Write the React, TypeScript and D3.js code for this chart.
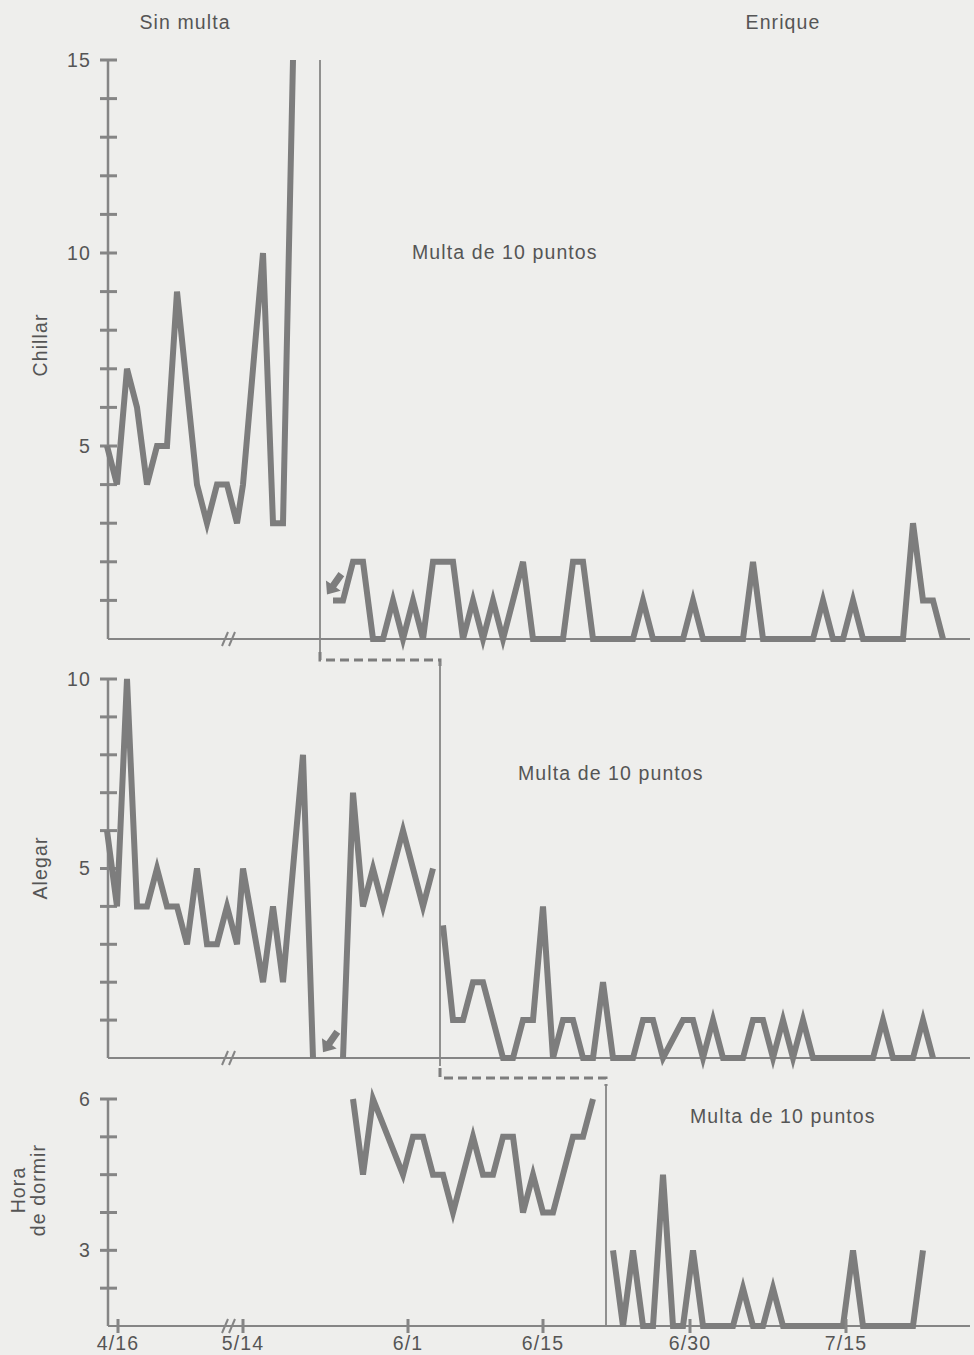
import React from 'react';
import * as d3 from 'd3';

// ---- x axis (session index, with a break between session 13 and 14) ----
const xDomain = [0, 13, 14, 84];
const xTickPos = [1.1, 14, 30.5, 44, 58.7, 74.3];
const xTickLabels = ['4/16', '5/14', '6/1', '6/15', '6/30', '7/15'];
const axisBreakPos = 11.8;
const phasePos = [21.7, 33.7, 50.3];

// ---- Chillar ----
const chillarBaseStart = 0;
const chillarBase = [5, 4, 7, 6, 4, 5, 5, 9, null, 4, 3, 4, 4, 3, 4, null, 10, 3, 3, 15];
const chillarFineStart = 23;
const chillarFine = [1, 1, 2, 2, 0, 0, 1, 0, 1, 0, 2, 2, 2, 0, 1, 0, 1, 0, null, 2, 0, 0, 0, 0, 2, 2, 0, 0, 0, 0, 0, 1, 0, 0, 0, 0, 1, 0, 0, 0, 0, 0, 2, 0, 0, 0, 0, 0, 0, 1, 0, 0, 1, 0, 0, 0, 0, 0, 3, 1, 1, 0];

// ---- Alegar ----
const alegarBase1Start = 0;
const alegarBase1 = [6, 4, 10, 4, 4, 5, 4, 4, 3, 5, 3, 3, 4, 3, 5, null, 2, 4, 2, null, 8, 0];
const alegarBase2Start = 24;
const alegarBase2 = [0, 7, 4, 5, 4, null, 6, null, 4, 5];
const alegarFineStart = 34;
const alegarFine = [3.5, 1, 1, 2, 2, null, 0, 0, 1, 1, 4, 0, 1, 1, 0, 0, 2, 0, 0, 0, 1, 1, 0, null, 1, 1, 0, 1, 0, 0, 0, 1, 1, 0, 1, 0, 1, 0, 0, 0, 0, 0, 0, 0, 1, 0, 0, 0, 1, 0];

// ---- Hora de dormir ----
const dormirBaseStart = 25;
const dormirBase = [6, 4.5, 6, null, null, 4.5, 5.25, 5.25, 4.5, 4.5, 3.75, null, 5.25, 4.5, 4.5, 5.25, 5.25, 3.75, 4.5, 3.75, 3.75, null, 5.25, 5.25, 6];
const dormirFineStart = 51;
const dormirFine = [3, 1.5, 3, 1.5, 1.5, 4.5, 1.5, 1.5, 3, 1.5, 1.5, 1.5, 1.5, 2.25, 1.5, 1.5, 2.25, 1.5, 1.5, 1.5, 1.5, 1.5, 1.5, 1.5, 3, 1.5, 1.5, 1.5, 1.5, 1.5, 1.5, 3];

// ---- y axes ----
const chillarTicks = d3.range(1, 16);
const chillarLabels = [5, 10, 15];
const alegarTicks = d3.range(1, 11);
const alegarLabels = [5, 10];
const dormirTicks = [2.25, 3, 3.75, 4.5, 5.25, 6];
const dormirLabels = [3, 6];

const arrowMarks = [
  { panel: 0, pos: 22.4, value: 1.15 },
  { panel: 1, pos: 22.0, value: 0.15 },
];

const W = 974;
const H = 1355;
const AX = 108;
const XEND = 970;
const LINE = '#7d7d7d';
const AXIS = '#858585';
const TEXT = '#555';
const FONT = '"Liberation Sans", Arial, Helvetica, sans-serif';

const x = d3.scaleLinear().domain(xDomain).range([107, 237, 243, 943]);

type Seg = { start: number; values: (number | null)[] };

export default function App() {
  const panels = [
    {
      y: d3.scaleLinear().domain([0, 15]).range([639, 60]),
      ticks: chillarTicks,
      labels: chillarLabels,
      segs: [
        { start: chillarBaseStart, values: chillarBase },
        { start: chillarFineStart, values: chillarFine },
      ] as Seg[],
      title: ['Chillar'],
      titleY: 345,
      fine: { x: 412, y: 252 },
    },
    {
      y: d3.scaleLinear().domain([0, 10]).range([1058, 679]),
      ticks: alegarTicks,
      labels: alegarLabels,
      segs: [
        { start: alegarBase1Start, values: alegarBase1 },
        { start: alegarBase2Start, values: alegarBase2 },
        { start: alegarFineStart, values: alegarFine },
      ] as Seg[],
      title: ['Alegar'],
      titleY: 868,
      fine: { x: 518, y: 773 },
    },
    {
      y: d3.scaleLinear().domain([1.5, 6]).range([1326, 1099]),
      ticks: dormirTicks,
      labels: dormirLabels,
      segs: [
        { start: dormirBaseStart, values: dormirBase },
        { start: dormirFineStart, values: dormirFine },
      ] as Seg[],
      title: ['Hora', 'de dormir'],
      titleY: 1190,
      fine: { x: 690, y: 1116 },
    },
  ];

  const textStyle = { fontFamily: FONT, fill: TEXT, fontSize: 19.5, letterSpacing: 1.1 } as const;

  return (
    <svg width={W} height={H} style={{ position: 'absolute', left: 0, top: 0, display: 'block' }}>
      <rect x={0} y={0} width={W} height={H} fill="#eeeeec" />
      <text x={185} y={22} dy="0.35em" textAnchor="middle" {...textStyle}>Sin multa</text>
      <text x={783} y={22} dy="0.35em" textAnchor="middle" {...textStyle}>Enrique</text>

      {panels.map((p, pi) => {
        const y = p.y;
        const [d0, d1] = y.domain();
        const base = y(d0);
        const top = y(d1);
        const line = d3
          .line<[number, number]>()
          .x((d) => x(d[0]))
          .y((d) => y(d[1]));
        return (
          <g key={pi}>
            {/* axes */}
            <line x1={AX} x2={AX} y1={top} y2={base} stroke={AXIS} strokeWidth={2.5} />
            <line x1={AX} x2={XEND} y1={base} y2={base} stroke={AXIS} strokeWidth={2} />
            {p.ticks.map((t) => (
              <line key={t} x1={AX - 8} x2={AX + 9} y1={y(t)} y2={y(t)} stroke={AXIS} strokeWidth={3} />
            ))}
            {p.labels.map((t) => (
              <text key={t} x={91} y={y(t)} dy="0.35em" textAnchor="end" {...textStyle}>
                {t}
              </text>
            ))}
            {/* axis break */}
            {[0, 7].map((o) => (
              <line
                key={o}
                x1={x(axisBreakPos) + o - 3}
                x2={x(axisBreakPos) + o + 3}
                y1={base + 7}
                y2={base - 7}
                stroke={AXIS}
                strokeWidth={2}
              />
            ))}
            {/* y title */}
            {p.title.map((t, ti) => (
              <text
                key={t}
                transform={`translate(${p.title.length === 1 ? 40 : 18 + ti * 20},${p.titleY}) rotate(-90)`}
                dy="0.35em"
                textAnchor="middle"
                {...textStyle}
              >
                {t}
              </text>
            ))}
            {/* data */}
            {p.segs.map((s, si) => {
              const pts = s.values
                .map((v, i) => [s.start + i, v] as [number, number | null])
                .filter((d) => d[1] !== null) as [number, number][];
              return (
                <path
                  key={si}
                  d={line(pts) || ''}
                  fill="none"
                  stroke={LINE}
                  strokeWidth={6}
                  strokeLinejoin="miter"
                  strokeMiterlimit={4}
                />
              );
            })}
            <text x={p.fine.x} y={p.fine.y} dy="0.35em" {...textStyle}>
              Multa de 10 puntos
            </text>
          </g>
        );
      })}

      {/* x ticks on bottom axis */}
      {xTickPos.map((t, i) => (
        <g key={i}>
          <line x1={x(t)} x2={x(t)} y1={1319} y2={1333} stroke={AXIS} strokeWidth={3} />
          <text x={x(t)} y={1343} dy="0.35em" textAnchor="middle" {...textStyle}>
            {xTickLabels[i]}
          </text>
        </g>
      ))}

      {/* phase change lines */}
      <line x1={x(phasePos[0])} x2={x(phasePos[0])} y1={60} y2={652} stroke={AXIS} strokeWidth={1.8} />
      <path
        d={`M${x(phasePos[0])},652 V660 H${x(phasePos[1])} V666`}
        fill="none"
        stroke={LINE}
        strokeWidth={3}
        strokeDasharray="9 5"
      />
      <line x1={x(phasePos[1])} x2={x(phasePos[1])} y1={662} y2={1066} stroke={AXIS} strokeWidth={1.8} />
      <path
        d={`M${x(phasePos[1])},1068 V1078 H${x(phasePos[2])} V1086`}
        fill="none"
        stroke={LINE}
        strokeWidth={3}
        strokeDasharray="9 5"
      />
      <line x1={x(phasePos[2])} x2={x(phasePos[2])} y1={1084} y2={1326} stroke={AXIS} strokeWidth={1.8} />

      {/* arrows */}
      {arrowMarks.map((a, i) => {
        const p = panels[a.panel];
        return (
          <path
            key={i}
            transform={`translate(${x(a.pos)},${p.y(a.value)}) rotate(35)`}
            d="M0,0 L-9,-11 L-3.5,-11 L-3.5,-25 L3.5,-25 L3.5,-11 L9,-11 Z"
            fill={LINE}
          />
        );
      })}
    </svg>
  );
}
